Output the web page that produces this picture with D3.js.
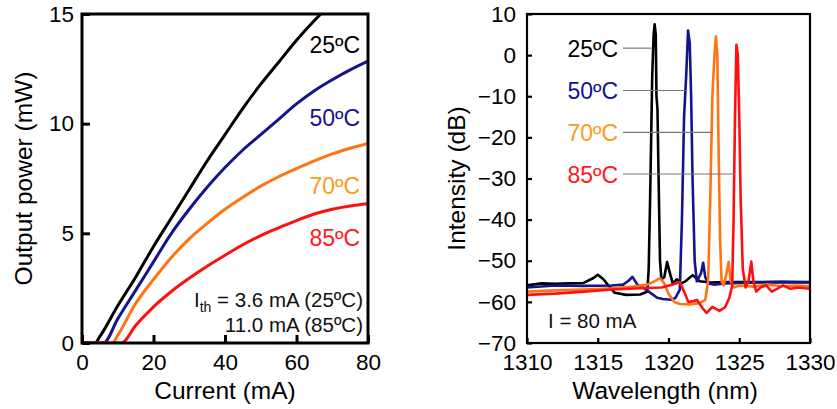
<!DOCTYPE html>
<html><head><meta charset="utf-8">
<script src="https://cdn.jsdelivr.net/npm/d3@7"></script>
<style>
html,body{margin:0;padding:0;background:#fff;}
svg{display:block;font-family:"Liberation Sans",Arial,sans-serif;}
</style></head>
<body>
<svg id="chart" width="837" height="409"></svg>
<script>
// ---------- Data: L-I curves (current mA, power mW) ----------
const liTemps = ["25ºC", "50ºC", "70ºC", "85ºC"];
const liColors = ["#000000", "#14148c", "#ff7410", "#ff1010"];
const liTextColors = ["#000000", "#14148c", "#ff9a20", "#ff1a1a"];
const li25 = [[0,0],[3.6,0],[5,0.3],[10,1.7],[15,3.0],[20,4.4],[25,5.7],[30,7.0],[35,8.3],[40,9.5],[45,10.7],[50,11.8],[55,12.8],[60,13.8],[65,14.7],[66.8,15]];
const li50 = [[0,0],[6,0],[10,1.1],[15,2.4],[20,3.7],[25,5.0],[30,6.1],[35,7.1],[40,8.0],[45,8.8],[50,9.5],[55,10.2],[60,10.9],[65,11.5],[70,12.0],[75,12.45],[80,12.85]];
const li70 = [[0,0],[8.5,0],[10,0.35],[15,1.8],[20,2.9],[25,3.9],[30,4.75],[35,5.45],[40,6.1],[45,6.65],[50,7.15],[55,7.58],[60,7.95],[65,8.3],[70,8.62],[75,8.88],[80,9.1]];
const li85 = [[0,0],[11,0],[15,0.8],[20,1.65],[25,2.35],[30,2.95],[35,3.5],[40,4.0],[45,4.48],[50,4.9],[55,5.25],[60,5.58],[65,5.88],[70,6.1],[75,6.25],[80,6.35]];
const liSeries = [li25, li50, li70, li85];
const liLabelY = [13.2, 9.9, 6.8, 4.4];   // label baseline positions (mW)
const liXTicks = [0, 20, 40, 60, 80];
const liYTicks = [0, 5, 10, 15];
const ithLines = ["= 3.6 mA (25ºC)", "11.0 mA (85ºC)"];

// ---------- Data: spectra (wavelength nm, intensity dB) ----------
const spTemps = ["25ºC", "50ºC", "70ºC", "85ºC"];
const sp25 = [[1310,-56],[1311,-55.5],[1312,-55.6],[1313,-55.5],[1314,-55.4],[1314.7,-54.2],[1315,-53.4],[1315.4,-54.5],[1315.7,-55.8],[1316.2,-57.8],[1317,-58.3],[1318,-58.2],[1318.5,-57.5],[1318.6,-52],[1318.7,-35],[1318.85,-5],[1318.95,5],[1319.02,7.5],[1319.1,5],[1319.15,-10],[1319.22,-13],[1319.3,-30],[1319.4,-50],[1319.5,-54.5],[1319.7,-54],[1319.9,-50.3],[1320.1,-53],[1320.3,-55.5],[1320.6,-54.5],[1320.9,-55.5],[1321.2,-55],[1321.7,-53.5],[1322.2,-55],[1323,-55.3],[1324,-55.2],[1326,-55.2],[1328,-55.1],[1330,-55.2]];
const sp50 = [[1310,-56.5],[1312,-56],[1314,-56.1],[1316,-56],[1316.8,-55.8],[1317.2,-54.8],[1317.45,-53.9],[1317.8,-55.8],[1318.2,-56.5],[1318.6,-57.5],[1319.2,-59],[1319.6,-59.3],[1320.2,-59.5],[1320.5,-59],[1320.8,-57],[1320.95,-40],[1321.1,-15],[1321.25,-5],[1321.38,6],[1321.5,3],[1321.6,-10],[1321.7,-30],[1321.85,-50],[1322.0,-55],[1322.3,-53],[1322.45,-50.5],[1322.6,-54],[1322.8,-55.5],[1323.2,-55.8],[1324,-55.5],[1326,-55.3],[1328,-55.2],[1330,-55.3]];
const sp70 = [[1310,-57.5],[1312,-57.2],[1314,-57],[1316,-56.7],[1317.5,-56.3],[1318.5,-55.8],[1319.0,-55],[1319.4,-54.2],[1319.7,-55.5],[1320.0,-58],[1320.4,-60],[1320.8,-60.5],[1321.5,-60.6],[1322.2,-60.3],[1322.6,-59.5],[1322.8,-55],[1322.95,-35],[1323.1,-10],[1323.25,0],[1323.35,4.5],[1323.45,0],[1323.55,-25],[1323.65,-45],[1323.75,-55],[1323.9,-56],[1324.1,-53],[1324.25,-50.3],[1324.4,-55],[1324.6,-56.5],[1325,-56],[1326,-56.3],[1327,-55.8],[1328,-56.2],[1329,-56],[1330,-56.2]];
const sp85 = [[1310,-58.3],[1312,-58],[1314,-57.5],[1316,-57],[1318,-56.7],[1319.5,-56.5],[1320.3,-55.8],[1320.8,-55.2],[1321.1,-57.5],[1321.4,-60],[1321.8,-59.8],[1322.0,-59.5],[1322.4,-61.5],[1322.7,-62.7],[1323.1,-61.2],[1323.6,-62.2],[1324.0,-61.3],[1324.3,-59],[1324.5,-56],[1324.6,-40],[1324.7,-15],[1324.8,2.5],[1324.9,0],[1325.0,-15],[1325.1,-35],[1325.25,-52],[1325.45,-56.5],[1325.65,-55],[1325.85,-50.2],[1326.0,-55],[1326.2,-57.5],[1326.5,-56.5],[1326.9,-56],[1327.3,-57.5],[1327.7,-56.8],[1328.1,-56],[1328.6,-56.8],[1329.2,-56.5],[1330,-56.8]];
const spSeries = [sp25, sp50, sp70, sp85];
const spLeaderY = [1.7, -8.6, -18.8, -28.9];        // dB where leader meets the label
const spLeaderX = [1318.8, 1321.25, 1323.1, 1324.7]; // nm where leader ends
const spXTicks = [1310, 1315, 1320, 1325, 1330];
const spYTicks = [10, 0, -10, -20, -30, -40, -50, -60, -70];

const svg = d3.select("#chart");
const order = [0, 1, 2, 3];

function styleAxis(g, w) {
  g.select(".domain").remove();
  g.selectAll(".tick line").attr("stroke", "#000").attr("stroke-width", w);
  g.selectAll(".tick text").attr("fill", "#000").style("font-size", "22.5px");
}

// ================= LEFT CHART =================
const L = {x0: 82, x1: 368, y0: 14, y1: 343};
const lx = d3.scaleLinear().domain([0, 80]).range([L.x0, L.x1]);
const ly = d3.scaleLinear().domain([0, 15]).range([L.y1, L.y0]);
const gL = svg.append("g");

gL.append("defs").append("clipPath").attr("id", "clipL")
  .append("rect").attr("x", L.x0).attr("y", L.y0).attr("width", L.x1 - L.x0).attr("height", L.y1 - L.y0);

const lineL = d3.line().x(d => lx(d[0])).y(d => ly(d[1])).curve(d3.curveMonotoneX);
gL.append("g").attr("clip-path", "url(#clipL)")
  .selectAll("path").data(order).join("path")
  .attr("d", i => lineL(liSeries[i]))
  .attr("fill", "none").attr("stroke", i => liColors[i]).attr("stroke-width", 3)
  .attr("stroke-linejoin", "round");

gL.append("rect").attr("x", L.x0).attr("y", L.y0).attr("width", L.x1 - L.x0).attr("height", L.y1 - L.y0)
  .attr("fill", "none").attr("stroke", "#000").attr("stroke-width", 3);

const gxL = gL.append("g").attr("transform", `translate(0,${L.y1})`)
  .call(d3.axisBottom(lx).tickValues(liXTicks).tickSize(-8).tickPadding(11).tickFormat(d3.format("d")));
const gyL = gL.append("g").attr("transform", `translate(${L.x0},0)`)
  .call(d3.axisLeft(ly).tickValues(liYTicks).tickSize(-8).tickPadding(8).tickFormat(d3.format("d")));
styleAxis(gxL, 3); styleAxis(gyL, 3);

gL.append("text").attr("x", (L.x0 + L.x1) / 2).attr("y", 399).attr("text-anchor", "middle")
  .style("font-size", "24.5px").text("Current (mA)");
gL.append("text").attr("transform", `translate(32,${(L.y0 + L.y1) / 2}) rotate(-90)`).attr("text-anchor", "middle")
  .style("font-size", "24.5px").text("Output power (mW)");

gL.selectAll("text.lbl").data(order).join("text").attr("class", "lbl")
  .attr("x", 360).attr("y", i => ly(liLabelY[i])).attr("text-anchor", "end")
  .attr("fill", i => liTextColors[i]).style("font-size", "23px").text(i => liTemps[i]);

const ith = gL.append("text").attr("x", 363).attr("y", 307).attr("text-anchor", "end").style("font-size", "20.5px").attr("fill", "#111");
ith.append("tspan").text("I");
ith.append("tspan").text("th").style("font-size", "14px").attr("dy", 5);
ith.append("tspan").text(" " + ithLines[0]).attr("dy", -5);
gL.append("text").attr("x", 363).attr("y", 332).attr("text-anchor", "end").style("font-size", "20.5px").attr("fill", "#111").text(ithLines[1]);

// ================= RIGHT CHART =================
const R = {x0: 527, x1: 810, y0: 14, y1: 343};
const rx = d3.scaleLinear().domain([1310, 1330]).range([R.x0, R.x1]);
const ry = d3.scaleLinear().domain([-70, 10]).range([R.y1, R.y0]);
const gR = svg.append("g");
gR.append("defs").append("clipPath").attr("id", "clipR")
  .append("rect").attr("x", R.x0).attr("y", R.y0).attr("width", R.x1 - R.x0).attr("height", R.y1 - R.y0);

const lineR = d3.line().x(d => rx(d[0])).y(d => ry(d[1]));
gR.append("g").attr("clip-path", "url(#clipR)")
  .selectAll("path").data(order).join("path")
  .attr("d", i => lineR(spSeries[i]))
  .attr("fill", "none").attr("stroke", i => liColors[i]).attr("stroke-width", 2.6)
  .attr("stroke-linejoin", "round");

gR.append("rect").attr("x", R.x0).attr("y", R.y0).attr("width", R.x1 - R.x0).attr("height", R.y1 - R.y0)
  .attr("fill", "none").attr("stroke", "#000").attr("stroke-width", 2.2);

const gxR = gR.append("g").attr("transform", `translate(0,${R.y1})`)
  .call(d3.axisBottom(rx).tickValues(spXTicks).tickSize(-5).tickPadding(11).tickFormat(d3.format("d")));
const gyR = gR.append("g").attr("transform", `translate(${R.x0},0)`)
  .call(d3.axisLeft(ry).tickValues(spYTicks).tickSize(-5).tickPadding(11).tickFormat(d3.format("d")));
styleAxis(gxR, 2.2); styleAxis(gyR, 2.2);

gR.append("text").attr("x", 665).attr("y", 399).attr("text-anchor", "middle")
  .style("font-size", "24.5px").text("Wavelength (nm)");
gR.append("text").attr("transform", `translate(465,${(R.y0 + R.y1) / 2}) rotate(-90)`).attr("text-anchor", "middle")
  .style("font-size", "24.5px").text("Intensity (dB)");

gR.selectAll("line.leader").data(order).join("line").attr("class", "leader")
  .attr("x1", 623).attr("x2", i => rx(spLeaderX[i]))
  .attr("y1", i => ry(spLeaderY[i])).attr("y2", i => ry(spLeaderY[i]))
  .attr("stroke", "#777").attr("stroke-width", 1.2);
gR.selectAll("text.lbl").data(order).join("text").attr("class", "lbl")
  .attr("x", 618).attr("y", i => ry(spLeaderY[i]) + 9).attr("text-anchor", "end")
  .attr("fill", i => liTextColors[i]).style("font-size", "23px").text(i => spTemps[i]);

gR.append("text").attr("x", 548).attr("y", 328).style("font-size", "20.5px").attr("fill", "#111").text("I = 80 mA");
</script>
</body></html>
